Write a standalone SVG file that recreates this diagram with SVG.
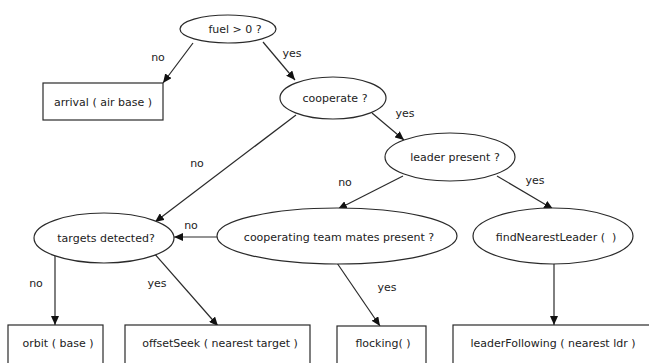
<svg xmlns="http://www.w3.org/2000/svg" width="649" height="363" viewBox="0 0 649 363">
<style>
.n{fill:#fff;stroke:#2a2a2a;stroke-width:1.2}
.t{font-family:"DejaVu Sans",sans-serif;font-size:11px;fill:#222;text-anchor:middle;dominant-baseline:central}
.c{stroke:#2a2a2a;stroke-width:1.2;fill:none;marker-end:url(#ah)}
</style>
<defs>
<marker id="ah" markerWidth="9" markerHeight="8" refX="9" refY="4" orient="auto" markerUnits="userSpaceOnUse">
<path d="M0,0 L9,4 L0,8 Z" fill="#111"/>
</marker>
</defs>
<rect width="649" height="363" fill="#fff"/>
<g id="connectors">
<line class="c" x1="193" y1="43" x2="163" y2="83"/>
<line class="c" x1="263" y1="42" x2="295" y2="80"/>
<line class="c" x1="372" y1="113" x2="404" y2="140"/>
<line class="c" x1="296" y1="115" x2="155" y2="222"/>
<line class="c" x1="403" y1="176" x2="338" y2="209"/>
<line class="c" x1="497" y1="176" x2="553" y2="209"/>
<line class="c" x1="217" y1="237" x2="174" y2="237"/>
<line class="c" x1="55" y1="252" x2="55" y2="325"/>
<line class="c" x1="153" y1="252" x2="218" y2="326"/>
<line class="c" x1="337" y1="263" x2="380" y2="326"/>
<line class="c" x1="554" y1="263" x2="554" y2="325"/>
<text class="t" x="158" y="57">no</text>
<text class="t" x="292" y="53">yes</text>
<text class="t" x="405" y="113">yes</text>
<text class="t" x="197" y="163">no</text>
<text class="t" x="345" y="182">no</text>
<text class="t" x="535" y="180">yes</text>
<text class="t" x="191" y="225">no</text>
<text class="t" x="36" y="283">no</text>
<text class="t" x="157" y="283">yes</text>
<text class="t" x="387" y="287">yes</text>
</g>
<g id="fuel"><ellipse class="n" cx="228" cy="29" rx="48" ry="14"/><text class="t" x="235" y="29">fuel &gt; 0 ?</text></g>
<g id="arrival"><rect class="n" x="43" y="83" width="120" height="37"/><text class="t" x="103" y="102">arrival ( air base )</text></g>
<g id="cooperate"><ellipse class="n" cx="333" cy="98" rx="53" ry="21"/><text class="t" x="335" y="98">cooperate ?</text></g>
<g id="leader"><ellipse class="n" cx="450" cy="157" rx="65" ry="24"/><text class="t" x="455" y="157">leader present ?</text></g>
<g id="targets"><ellipse class="n" cx="104" cy="238" rx="70" ry="25"/><text class="t" x="106" y="238">targets detected?</text></g>
<g id="coopteam"><ellipse class="n" cx="337" cy="236" rx="120" ry="28"/><text class="t" x="339" y="237">cooperating team mates present ?</text></g>
<g id="findleader"><ellipse class="n" cx="553" cy="236" rx="80" ry="28"/><text class="t" x="556" y="237">findNearestLeader ( &#160;)</text></g>
<g id="orbit"><rect class="n" x="8" y="325" width="95" height="50"/><text class="t" x="58" y="343">orbit ( base )</text></g>
<g id="offsetseek"><rect class="n" x="125" y="325" width="185" height="50"/><text class="t" x="220" y="343">offsetSeek ( nearest target )</text></g>
<g id="flocking"><rect class="n" x="337" y="326" width="89" height="50"/><text class="t" x="383" y="343">flocking( )</text></g>
<g id="leaderfollowing"><rect class="n" x="453" y="325" width="200" height="50"/><text class="t" x="553" y="343">leaderFollowing ( nearest ldr )</text></g>
</svg>
